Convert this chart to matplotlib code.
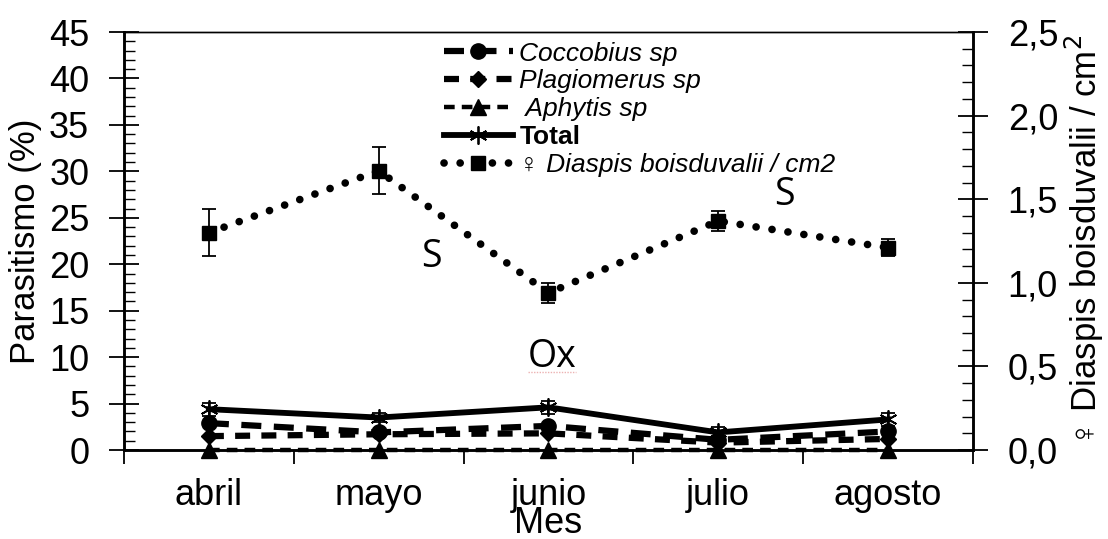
import matplotlib.pyplot as plt
from matplotlib.ticker import MultipleLocator, FixedLocator, FuncFormatter
import numpy as np

plt.rcParams['font.family'] = ['Liberation Sans', 'DejaVu Sans']

meses = ['abril', 'mayo', 'junio', 'julio', 'agosto']

# parasitismo (%) por especie
coccobius = [2.9, 1.9, 2.6, 1.1, 2.0]
plagiomerus = [1.5, 1.7, 1.8, 0.8, 1.2]
aphytis = [0.0, 0.0, 0.0, 0.0, 0.0]
total = [4.4, 3.5, 4.6, 1.9, 3.3]
total_err = [0.7, 0.5, 0.7, 0.6, 0.7]

# hembras de Diaspis boisduvalii por cm2 (eje derecho)
diaspis = [1.30, 1.67, 0.94, 1.37, 1.21]
diaspis_err = [0.14, 0.14, 0.06, 0.06, 0.05]

x = np.arange(len(meses))

fig = plt.figure(figsize=(11.08, 5.39), dpi=100)
ax = fig.add_axes([0.1119, 0.165, 0.7662, 0.7756])
ax2 = ax.twinx()

l1, = ax.plot(x, coccobius, color='black', lw=4.5, dashes=(3.2, 2.0),
              marker='o', ms=11, label='Coccobius sp', zorder=3)
l2, = ax.plot(x, plagiomerus, color='black', lw=4.5, dashes=(2.4, 1.8),
              marker='D', ms=8, label='Plagiomerus sp', zorder=3)
l3, = ax.plot(x, aphytis, color='black', lw=3.2, dashes=(2.4, 1.6),
              marker='^', ms=12, label=' Aphytis sp', zorder=3, clip_on=False)
ax.errorbar(x, total, yerr=total_err, fmt='none', ecolor='black',
            elinewidth=1.3, capsize=5, capthick=1.3, zorder=4)
l4, = ax.plot(x, total, color='black', lw=4.2, marker=(6, 2, 0), ms=13,
              mew=1.3, label='Total', zorder=4)

ax2.errorbar(x, diaspis, yerr=diaspis_err, fmt='none', ecolor='black',
             elinewidth=1.3, capsize=5, capthick=1.3, zorder=3)
l5, = ax2.plot(x, diaspis, color='black', lw=5.5, linestyle=(0, (0.01, 2.1)),
               dash_capstyle='round', marker='s', ms=10,
               label='\u2640 Diaspis boisduvalii / cm2', zorder=3)

# ejes
ax.set_xlim(-0.5, 4.5)
ax.set_ylim(0, 45)
ax2.set_ylim(0, 2.5)

ax.set_xticks(x)
ax.set_xticklabels(meses, fontsize=26)
ax.xaxis.set_minor_locator(FixedLocator(np.arange(-0.5, 4.6, 1)))
ax.tick_params(axis='x', which='major', length=0, pad=20)
ax.tick_params(axis='x', which='minor', direction='out', length=10, width=1.3)

ax.yaxis.set_major_locator(MultipleLocator(5))
ax.yaxis.set_minor_locator(MultipleLocator(1))
ax.tick_params(axis='y', which='major', direction='inout', length=22, width=1.3,
               labelsize=26, pad=14)
ax.tick_params(axis='y', which='minor', direction='in', length=8, width=1.0)

ax2.yaxis.set_major_locator(MultipleLocator(0.5))
ax2.yaxis.set_minor_locator(MultipleLocator(0.1))
ax2.yaxis.set_major_formatter(FuncFormatter(lambda v, p: f'{v:.1f}'.replace('.', ',')))
ax2.tick_params(axis='y', which='major', direction='inout', length=22, width=1.3,
                labelsize=26, pad=14)
ax2.tick_params(axis='y', which='minor', direction='in', length=8, width=1.0)

for a in (ax, ax2):
    for s in ('left', 'right', 'bottom'):
        a.spines[s].set_linewidth(1.8)
    a.spines['top'].set_linewidth(1.0)

ax.set_ylabel('Parasitismo (%)', fontsize=25, labelpad=5)
ax.set_xlabel('Mes', fontsize=26, labelpad=-5)
ax2.set_ylabel('\u2640 Diaspis boisduvalii / cm$^2$', fontsize=25, labelpad=3)

# letras de significancia
ax.text(1.31, 20.8, 'S', fontsize=27, family='Open Sans', ha='center', va='center')
ax2.text(3.39, 1.525, 'S', fontsize=27, family='Open Sans', ha='center', va='center')
ax.text(2.02, 10.0, 'Ox', fontsize=27, family='Open Sans', ha='center', va='center')
ax.plot([1.88, 2.16], [8.4, 8.4], color='#e08080', lw=1, ls=(0, (1, 1)), alpha=0.6)

leg = ax2.legend(handles=[l1, l2, l3, l4, l5], loc='upper left',
                 bbox_to_anchor=(0.36, 1.012), frameon=False, fontsize=19,
                 handlelength=2.6, handletextpad=0.25, labelspacing=0.15,
                 borderaxespad=0.15)
for i, t in enumerate(leg.get_texts()):
    if i == 3:
        t.set_fontweight('bold')
    else:
        t.set_fontstyle('italic')

fig.savefig('out.png', dpi=100)
